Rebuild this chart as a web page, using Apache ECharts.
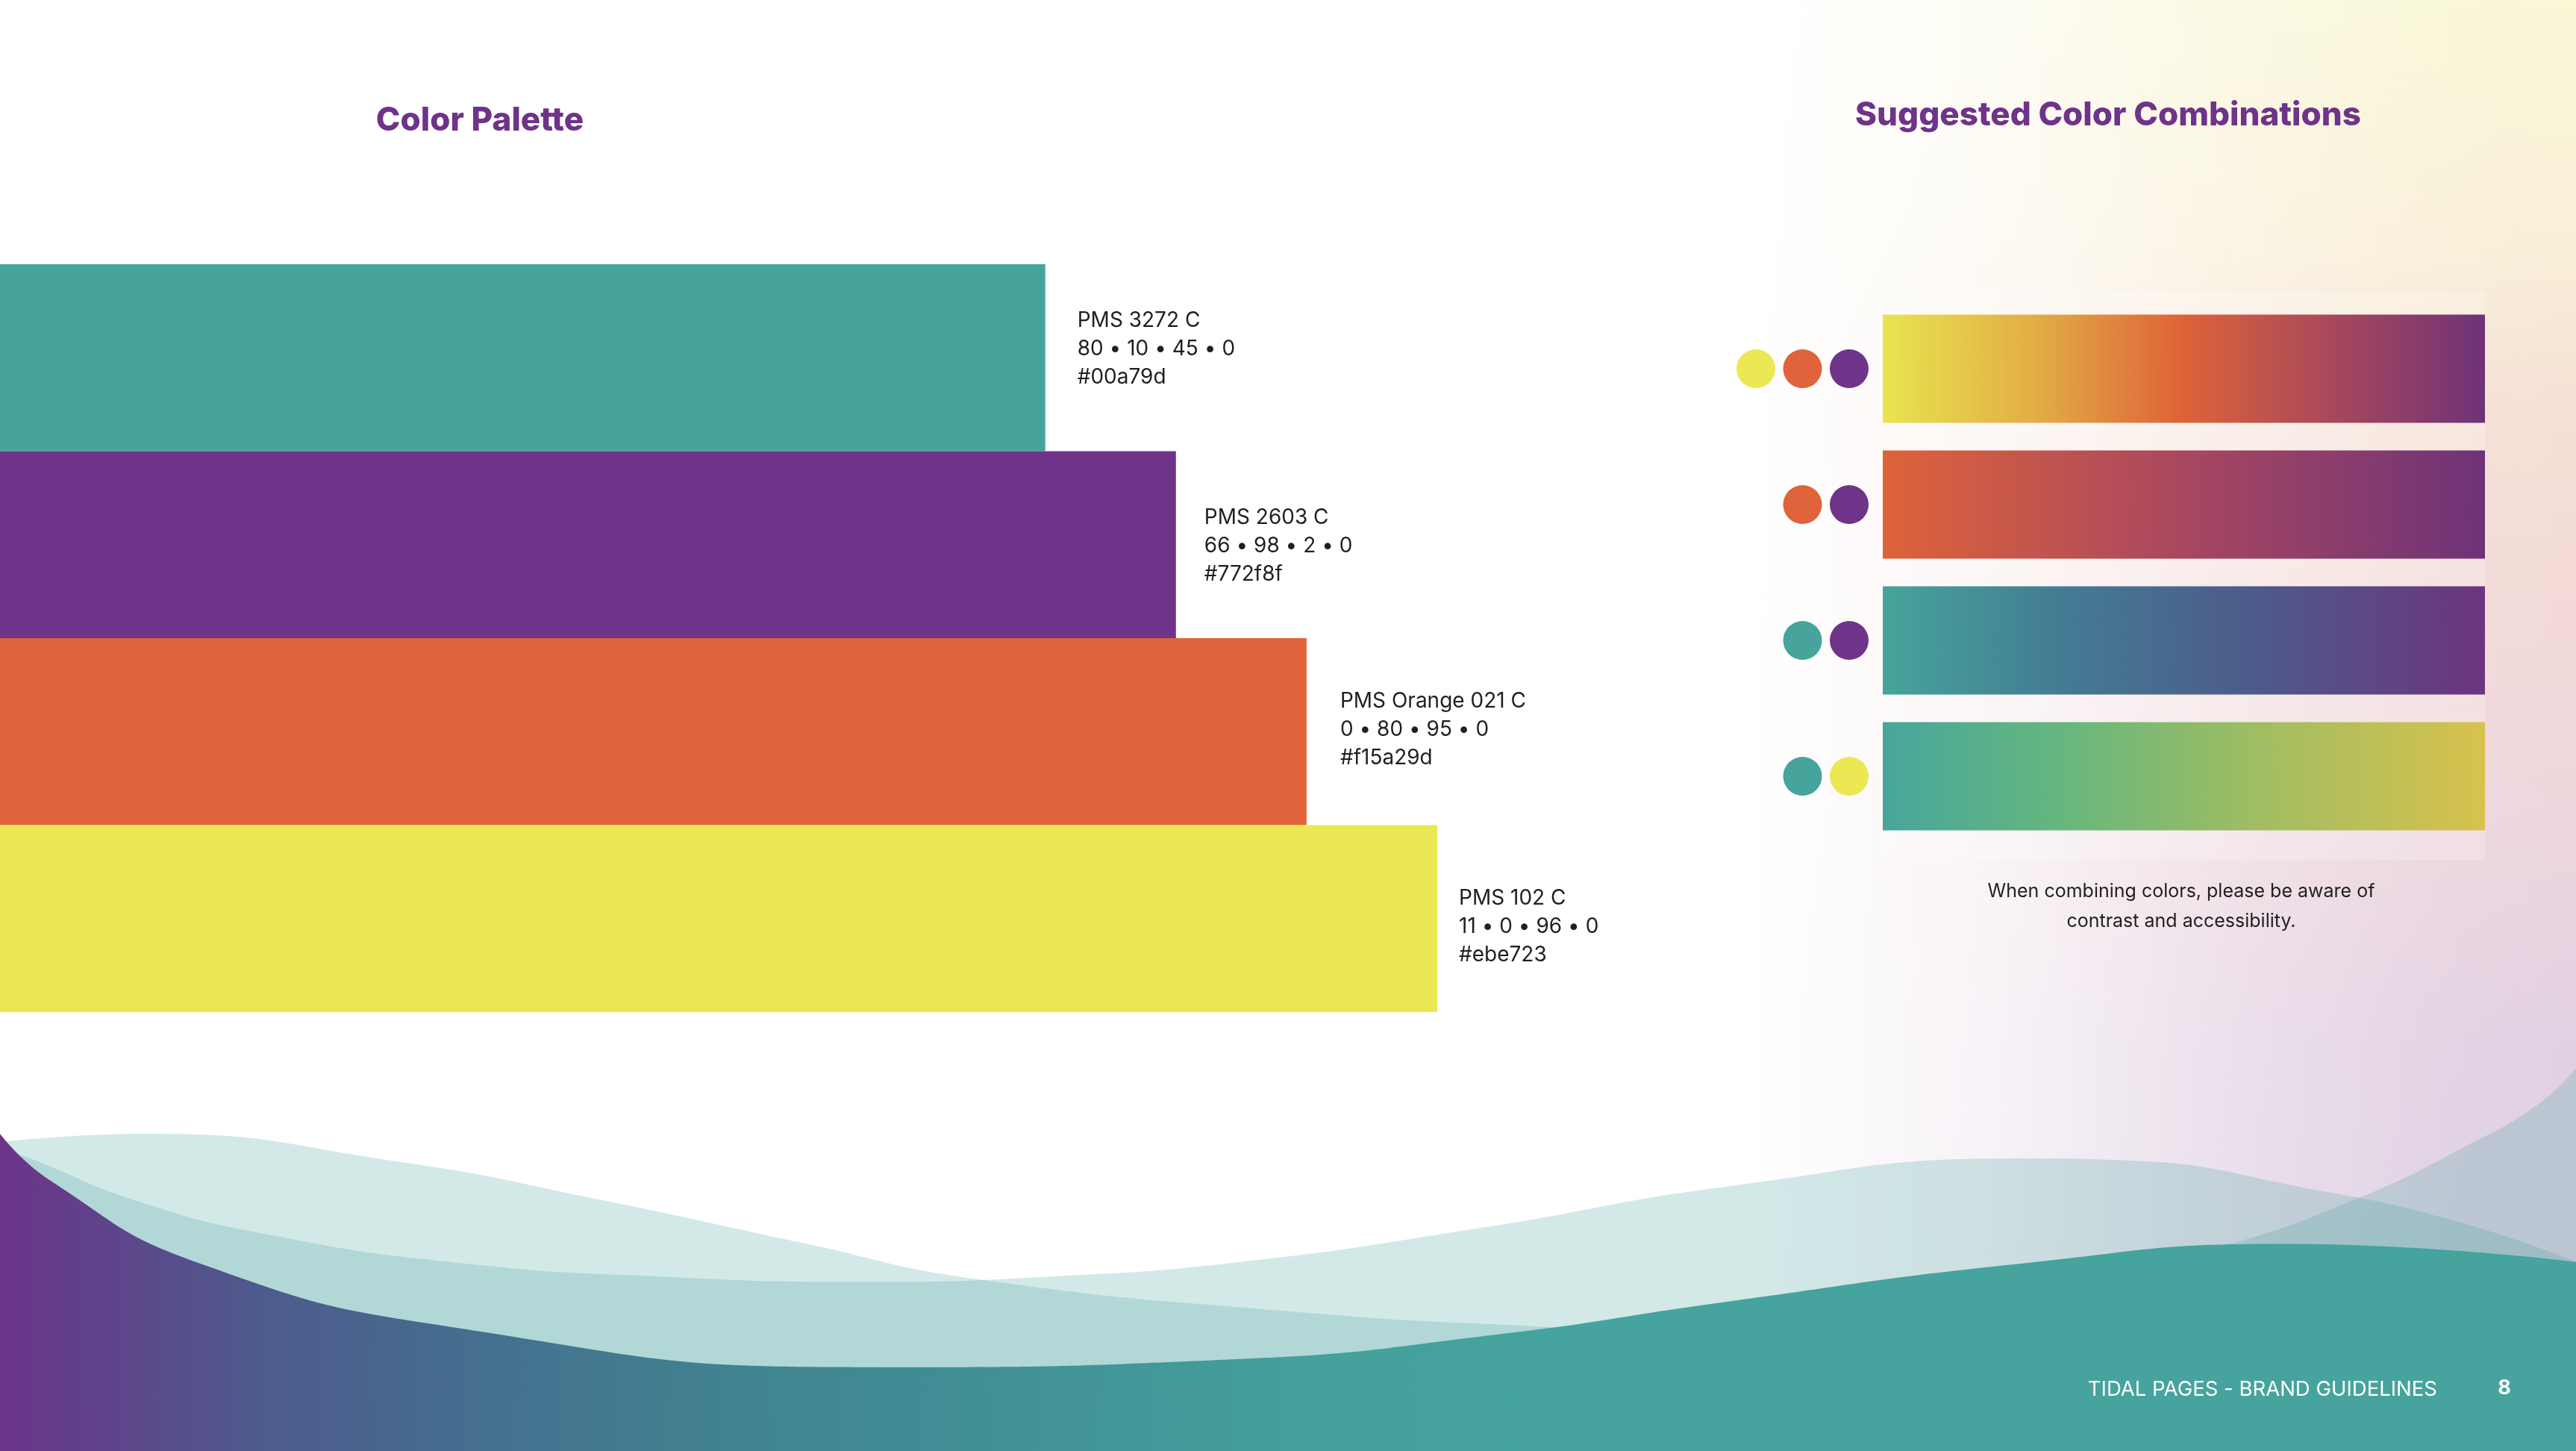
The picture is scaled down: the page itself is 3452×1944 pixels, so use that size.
<!DOCTYPE html>
<html><head><meta charset="utf-8">
<script src="https://cdn.jsdelivr.net/npm/echarts@6/dist/echarts.min.js"></script>
<style>html,body{margin:0;padding:0;background:#fff;overflow:hidden}#c{width:3452px;height:1944px}</style>
</head><body><div id="c"></div>
<script>
// ---------- data ----------
const paletteNames = ['PMS 3272 C', 'PMS 2603 C', 'PMS Orange 021 C', 'PMS 102 C'];
const paletteCmyk = ['80 • 10 • 45 • 0', '66 • 98 • 2 • 0', '0 • 80 • 95 • 0', '11 • 0 • 96 • 0'];
const paletteHex = ['#00a79d', '#772f8f', '#f15a29d', '#ebe723'];
const paletteValues = [8, 9, 10, 11];
const comboRows = ['Yellow / Orange / Purple', 'Orange / Purple', 'Teal / Purple', 'Teal / Yellow'];
const comboValues = [1, 1, 1, 1];
const comboDots = [
  ['yellow', 'orange', 'purple'],
  ['orange', 'purple'],
  ['teal', 'purple'],
  ['teal', 'yellow']
];
// decorative waves (x, y in page units of 1568 x 883, y downward)
const waveBack = [[0,700],[16,704],[81,730],[162,751],[284,769],[406,777],[527,780],[636,777],[755,768],[903,747],[1052,722],[1230,705],[1290,706],[1409,724],[1498,744],[1568,768]];
const waveFront = [[0,695],[89,690],[243,707],[365,730],[487,756],[592,778],[784,798],[933,807],[1150,815],[1568,819]];
const waveRight = [[1200,800],[1355,758],[1438,728],[1500,698],[1545,672],[1568,650]];
const waveBase = [[0,690],[30,718],[122,769],[284,809],[527,832],[755,827],[912,812],[1052,792],[1230,769],[1390,757],[1568,768]];

// ---------- styles ----------
const swatch = { teal: '#46a49c', purple: '#6f338a', orange: '#e0633b', yellow: '#ebe854' };
const paletteColors = [swatch.teal, swatch.purple, swatch.orange, swatch.yellow];
const labelDist = [43, 38, 45, 29];
const labelDy = [-12, 2, -3, 11];
const G = echarts.graphic;
const comboGradients = [
  [[0,'#e9e450'],[0.25,'#e2ae45'],[0.5,'#de6238'],[0.75,'#a6485c'],[1,'#6e3377']],
  [[0,'#de6339'],[0.5,'#a84760'],[1,'#6e3378']],
  [[0,'#46a49b'],[0.3,'#437b93'],[0.62,'#4d5a8a'],[1,'#6c357f']],
  [[0,'#47a69c'],[0.3,'#66b77d'],[0.62,'#a0bd62'],[1,'#d8c24d']]
];
const FONT = 'Inter, "Noto Sans", sans-serif';

const chart = echarts.init(document.getElementById('c'), null, { renderer: 'canvas' });

const dotData = [];
comboDots.forEach((row, r) => {
  const start = 3 - row.length;
  row.forEach((c, i) => dotData.push({ value: [start + i, r], itemStyle: { color: swatch[c], opacity: 1 } }));
});

const waveSeries = (data, color, z) => ({
  type: 'line', xAxisIndex: 0, yAxisIndex: 0, data, smooth: 0.5,
  showSymbol: false, symbol: 'none', silent: true, z,
  lineStyle: { width: 0, opacity: 0 },
  areaStyle: { color, origin: 'end', opacity: 1 }
});

const option = {
  animation: false,
  backgroundColor: '#ffffff',
  grid: [
    { left: 0, top: 0, width: 3452, height: 1944 },
    { left: 0, top: 354, width: 1926, height: 1002 },
    { left: 2523, top: 403, width: 807, height: 728 },
    { left: 2353, top: 403, width: 125, height: 728 }
  ],
  xAxis: [
    { gridIndex: 0, type: 'value', min: 0, max: 1568, show: false },
    { gridIndex: 1, type: 'value', min: 0, max: 11, show: false },
    { gridIndex: 2, type: 'value', min: 0, max: 1, show: false },
    { gridIndex: 3, type: 'value', min: 0, max: 2, show: false }
  ],
  yAxis: [
    { gridIndex: 0, type: 'value', min: 0, max: 883, inverse: true, show: false },
    { gridIndex: 1, type: 'category', data: paletteNames, inverse: true, show: false },
    { gridIndex: 2, type: 'category', data: comboRows, inverse: true, show: false },
    { gridIndex: 3, type: 'category', data: comboRows, inverse: true, show: false }
  ],
  graphic: [
    { type: 'rect', z: 0, silent: true, shape: { x: 2350, y: 0, width: 1102, height: 1944 },
      style: { fill: new G.LinearGradient(0, 0, 0, 1, [
        { offset: 0, color: '#f9f7d6' }, { offset: 0.17, color: '#f9efd8' }, { offset: 0.28, color: '#f6e1d5' },
        { offset: 0.4, color: '#f3dad7' }, { offset: 0.55, color: '#eed6dc' }, { offset: 0.72, color: '#e2d1e3' },
        { offset: 1, color: '#dccfe2' }]) } },
    { type: 'rect', z: 0, silent: true, shape: { x: 2349, y: 0, width: 1104, height: 1944 },
      style: { fill: new G.LinearGradient(0, 0, 1, 0, [
        { offset: 0, color: 'rgba(255,255,255,1)' }, { offset: 0.3, color: 'rgba(255,255,255,0.72)' },
        { offset: 0.6, color: 'rgba(255,255,255,0.3)' }, { offset: 0.85, color: 'rgba(255,255,255,0.06)' },
        { offset: 1, color: 'rgba(255,255,255,0)' }]) } },
    { type: 'rect', z: 1, silent: true, shape: { x: 2523, y: 391, width: 807, height: 761 },
      style: { fill: 'rgba(255,255,255,0.22)' } },
    { type: 'text', z: 100, silent: true, x: 643, y: 162,
      style: { text: 'Color Palette', textAlign: 'center', textVerticalAlign: 'middle',
        font: '800 44px ' + FONT, fill: '#6f338a' } },
    { type: 'text', z: 100, silent: true, x: 2825, y: 155,
      style: { text: 'Suggested Color Combinations', textAlign: 'center', textVerticalAlign: 'middle',
        font: '800 44px ' + FONT, fill: '#6f338a' } },
    { type: 'text', z: 100, silent: true, x: 2923, y: 1214,
      style: { text: 'When combining colors, please be aware of\ncontrast and accessibility.', textAlign: 'center',
        textVerticalAlign: 'middle', font: '400 25px ' + FONT, lineHeight: 40, fill: '#222222' } },
    { type: 'text', z: 100, silent: true, x: 3266, y: 1862,
      style: { text: 'TIDAL PAGES - BRAND GUIDELINES', textAlign: 'right', textVerticalAlign: 'middle',
        font: '400 27.5px ' + FONT, fill: '#ffffff' } },
    { type: 'text', z: 100, silent: true, x: 3356, y: 1860,
      style: { text: '8', textAlign: 'center', textVerticalAlign: 'middle',
        font: '700 27px ' + FONT, fill: '#ffffff' } }
  ],
  series: [
    waveSeries(waveBack, 'rgba(70,163,157,0.24)', 2),
    waveSeries(waveFront, 'rgba(70,163,157,0.24)', 2),
    waveSeries(waveRight, 'rgba(70,163,157,0.24)', 2),
    waveSeries(waveBase, new G.LinearGradient(0, 0, 1, 0, [
      { offset: 0, color: '#6b3489' }, { offset: 0.1, color: '#4e5a8d' }, { offset: 0.19, color: '#44708f' },
      { offset: 0.29, color: '#418490' }, { offset: 0.38, color: '#418f96' }, { offset: 0.51, color: '#45a09b' },
      { offset: 0.6, color: '#46a39d' }, { offset: 1, color: '#46a39d' }]), 3),
    {
      type: 'bar', xAxisIndex: 1, yAxisIndex: 1, barCategoryGap: 0, silent: true, z: 4,
      data: paletteValues.map((v, i) => ({
        value: v,
        itemStyle: { color: paletteColors[i] },
        label: {
          show: true, position: 'right', distance: labelDist[i], offset: [0, labelDy[i]],
          formatter: () => paletteNames[i] + '\n' + paletteCmyk[i] + '\n' + paletteHex[i],
          fontFamily: FONT, fontSize: 28, lineHeight: 38, color: '#1f1f1f', align: 'left'
        }
      }))
    },
    {
      type: 'bar', xAxisIndex: 2, yAxisIndex: 2, barWidth: 145, silent: true, z: 4,
      data: comboValues.map((v, i) => ({
        value: v,
        itemStyle: { color: new G.LinearGradient(0, 0, 1, 0, comboGradients[i].map(s => ({ offset: s[0], color: s[1] }))) }
      }))
    },
    {
      type: 'scatter', xAxisIndex: 3, yAxisIndex: 3, symbol: 'circle', symbolSize: 52, silent: true, z: 4,
      clip: false, itemStyle: { opacity: 1 }, data: dotData
    }
  ]
};
chart.setOption(option);
</script>
</body></html>
